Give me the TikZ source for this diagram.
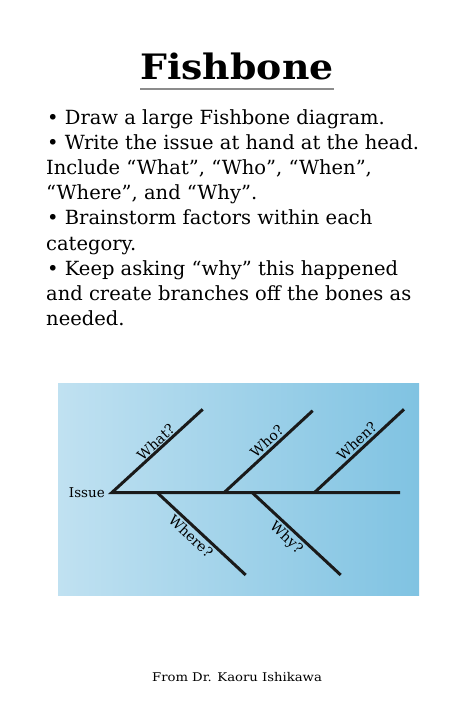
\documentclass[tikz,border=0pt]{standalone}
\usepackage{fontspec}
\setmainfont{DejaVu Serif}
\definecolor{bgleft}{HTML}{C0E1F1}
\definecolor{bgright}{HTML}{80C3E2}
\definecolor{bonecol}{HTML}{1A1A1A}
\definecolor{rulegray}{HTML}{8C8C8C}
\begin{document}
\begin{tikzpicture}[x=1pt,y=-1pt,
  body/.style={anchor=base west,inner sep=0pt,font=\fontsize{19.5}{25}\selectfont},
  bone/.style={line width=3pt,draw=bonecol},
  lbl/.style={font=\fontsize{14}{16}\selectfont,inner sep=2pt,sloped}]
\useasboundingbox[fill=white] (0,0) rectangle (474,727);
% title
\node[anchor=base,inner sep=0pt,font=\fontsize{35}{40}\selectfont\bfseries] (title) at (237,80) {\scalebox{1.08}[1]{Fishbone}};
\draw[line width=2pt,rulegray] (140,89.5) -- (334,89.5);
% body text
\node[body] (l1) at (47,125) {•\ Draw a large Fishbone diagram.};
\node[body] (l2) at (47,150) {•\ Write the issue at hand at the head.};
\node[body] (l3) at (46,175) {Include “What”, “Who”, “When”,};
\node[body] (l4) at (46,200) {“Where”, and “Why”.};
\node[body] (l5) at (47,225) {•\ Brainstorm factors within each};
\node[body] (l6) at (46,250) {category.};
\node[body] (l7) at (47,275) {•\ Keep asking “why” this happened};
\node[body] (l8) at (46,300) {and create branches off the bones as};
\node[body] (l9) at (46,325) {needed.};
% diagram background
\shade[left color=bgleft,right color=bgright] (58,383) rectangle (419,595);
% coordinates
\coordinate (head) at (111.7,492.7);
\coordinate (tail) at (400,492.7);
\coordinate (whatend) at (202.7,409.3);
\coordinate (whoj) at (224,492.7);
\coordinate (whoend) at (312.7,410.7);
\coordinate (whenj) at (314.3,492.7);
\coordinate (whenend) at (404,409.3);
\coordinate (wherej) at (157.3,492.7);
\coordinate (whereend) at (245.7,575);
\coordinate (whyj) at (252.3,492.7);
\coordinate (whyend) at (340.7,575);
% bones
\draw[bone,line join=miter] (whatend) -- (head) -- (tail);
\path (head) -- node[lbl,above,pos=0.54] (what) {What?} (whatend);
\draw[bone] (whoj) -- node[lbl,above,pos=0.55] (who) {Who?} (whoend);
\draw[bone] (whenj) -- node[lbl,above,pos=0.54] (when) {When?} (whenend);
\draw[bone] (wherej) -- node[lbl,below,pos=0.45] (where) {Where?} (whereend);
\draw[bone] (whyj) -- node[lbl,below,pos=0.46] (why) {Why?} (whyend);
\node[anchor=east,font=\fontsize{13.5}{15}\selectfont,inner sep=0pt] (issue) at (105,492.7) {Issue};
% footer
\node[anchor=base,inner sep=0pt,font=\fontsize{12}{14}\selectfont] (footer) at (237,681) {\scalebox{1.1}[1]{From Dr. Kaoru Ishikawa}};
\end{tikzpicture}
\end{document}
